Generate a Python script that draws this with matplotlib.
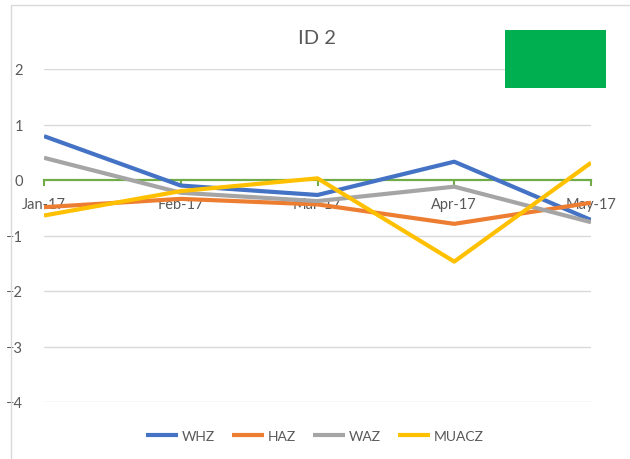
import matplotlib.pyplot as plt
from matplotlib.patches import Rectangle

plt.rcParams['font.family'] = ['Lato', 'DejaVu Sans']

months = ['Jan-17', 'Feb-17', 'Mar-17', 'Apr-17', 'May-17']
whz = [0.79, -0.10, -0.27, 0.33, -0.72]
haz = [-0.49, -0.34, -0.44, -0.79, -0.41]
waz = [0.40, -0.23, -0.38, -0.12, -0.76]
muacz = [-0.64, -0.20, 0.03, -1.47, 0.31]

series = [('WHZ', whz, '#4472C4'), ('HAZ', haz, '#ED7D31'),
          ('WAZ', waz, '#A5A5A5'), ('MUACZ', muacz, '#FFC000')]

fig = plt.figure(figsize=(6.3, 4.6), dpi=100)
ax = fig.add_axes([44 / 630, 1 - 403 / 460, (591 - 44) / 630, (403 - 70) / 460])

x = list(range(len(months)))
for name, vals, col in series:
    ax.plot(x, vals, color=col, lw=3.0, label=name, solid_capstyle='butt', zorder=3)

ax.set_xlim(0, len(months) - 1)
ax.set_ylim(-4, 2)
ax.set_yticks([-4, -3, -2, -1, 0, 1, 2])
for v in [-4, -3, -2, -1, 1, 2]:
    ax.axhline(v, color='#D9D9D9', lw=1, zorder=1)

for s in ['top', 'right', 'left']:
    ax.spines[s].set_visible(False)
ax.spines['bottom'].set_position(('data', 0))
ax.spines['bottom'].set_color('#70AD47')
ax.spines['bottom'].set_linewidth(1.6)
ax.spines['bottom'].set_zorder(2)

ax.set_xticks(x)
ax.set_xticklabels(months)
ax.tick_params(axis='x', colors='#70AD47', length=4, width=1.5, pad=8,
               labelcolor='#595959', labelsize=10.5)
ax.tick_params(axis='y', length=0, pad=15, labelcolor='#595959', labelsize=10.5)

fig.text(317 / 630, 1 - 38 / 460, 'ID 2', ha='center', va='center',
         fontsize=14.5, color='#595959')

# green box, top right
fig.patches.append(Rectangle((505 / 630, 1 - 89 / 460), 101 / 630, 58 / 460,
                             transform=fig.transFigure, facecolor='#00B050',
                             edgecolor='none'))
# chart frame
fig.patches.append(Rectangle((11 / 630, -0.02), 1.0, 1 - 6 / 460 + 0.02,
                             transform=fig.transFigure, facecolor='none',
                             edgecolor='#D9D9D9', lw=1))

fig.legend(loc='center', bbox_to_anchor=(0.5, 1 - 437 / 460), ncol=4,
           frameon=False, fontsize=10, handlelength=2.3, columnspacing=1.2,
           handletextpad=0.3, labelcolor='#595959')

fig.savefig('out.png', dpi=100)
